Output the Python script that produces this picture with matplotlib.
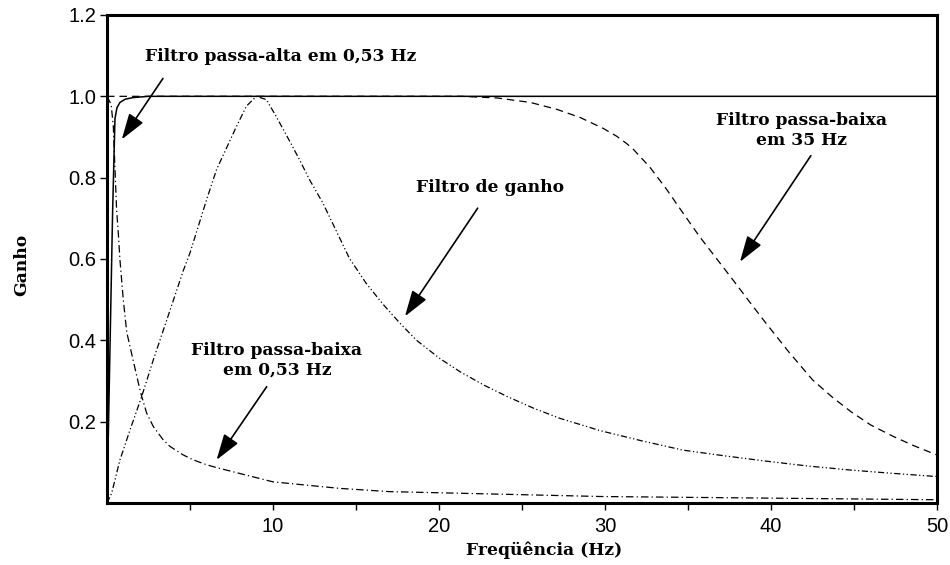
import matplotlib
matplotlib.use("Agg")
import matplotlib.pyplot as plt
from matplotlib.ticker import FixedLocator, NullFormatter

# gain curves of the filter chain, frequency in Hz
hp_freq = [0, 0.34, 0.48, 0.6, 0.78, 1.1, 1.58, 2.5, 50]
hp_gain = [0, 0.72, 0.945, 0.972, 0.985, 0.993, 0.997, 1.0, 1.0]

lp053_freq = [0, 0.25, 0.38, 0.58, 0.68, 0.78, 0.98, 1.19, 1.58, 1.89, 2.09,
              2.39, 2.79, 3.39, 3.8, 4.6, 5.2, 6.0, 6.6, 10.0, 14.0, 17.0,
              29.7, 50]
lp053_gain = [1.0, 0.98, 0.926, 0.72, 0.664, 0.598, 0.50, 0.42, 0.35, 0.295,
              0.262, 0.221, 0.188, 0.155, 0.139, 0.118, 0.106, 0.094, 0.087,
              0.052, 0.036, 0.028, 0.016, 0.008]

gain_freq = [0, 0.28, 0.78, 1.39, 2.09, 2.79, 3.6, 4.6, 5.0, 6.0, 6.6, 7.8, 8.4,
             9.0, 9.6, 10.2, 11.0, 11.6, 12.2, 13.0, 14.6, 15.6, 16.6, 17.65,
             18.65, 20.06, 21.3, 22.7, 24.1, 25.7, 27.3, 29.7, 32.2, 34.7, 37.2,
             39.7, 42.2, 44.8, 47.3, 50]
gain_gain = [0, 0.024, 0.106, 0.18, 0.262, 0.352, 0.45, 0.572, 0.615, 0.746,
             0.82, 0.926, 0.976, 1.0, 0.992, 0.95, 0.89, 0.844, 0.795, 0.738,
             0.602, 0.541, 0.49, 0.442, 0.40, 0.355, 0.322, 0.29, 0.262,
             0.233, 0.208, 0.178, 0.153, 0.13, 0.116, 0.103, 0.091, 0.081,
             0.073, 0.065]

lp35_freq = [0, 21.4, 23.5, 25.5, 27.1, 28.5, 29.9, 30.7, 31.3, 31.7, 32.7, 33.7,
             34.7, 35.7, 36.7, 37.7, 38.7, 39.7, 41.1, 42.5, 43.7, 44.8, 46.0,
             47.4, 48.6, 50]
lp35_gain = [1.0, 1.0, 0.996, 0.985, 0.968, 0.948, 0.921, 0.902, 0.884, 0.870,
             0.826, 0.772, 0.713, 0.655, 0.602, 0.549, 0.495, 0.442, 0.37,
             0.303, 0.26, 0.225, 0.192, 0.163, 0.141, 0.118]

x_ticks = [10, 20, 30, 40, 50]
x_minor = [5, 15, 25, 35, 45]
y_ticks = [0.2, 0.4, 0.6, 0.8, 1.0, 1.2]

serif = {"family": "DejaVu Serif", "weight": "bold", "size": 12.3}

fig = plt.figure(figsize=(9.5, 5.65), dpi=100)
ax = fig.add_axes([107 / 950, 62 / 565, 830 / 950, 488 / 565])

lw = 0.9
ax.plot(hp_freq, hp_gain, color="black", lw=1.1)
ax.plot(lp053_freq, lp053_gain, color="black", lw=lw,
        dashes=(6, 2.5, 1, 2.5))
ax.plot(gain_freq, gain_gain, color="black", lw=lw,
        dashes=(5, 2, 1, 2, 1, 2))
ax.plot(lp35_freq, lp35_gain, color="black", lw=lw, dashes=(6, 4))

ax.set_xlim(0, 50)
ax.set_ylim(0, 1.2)
ax.xaxis.set_major_locator(FixedLocator(x_ticks))
ax.xaxis.set_minor_locator(FixedLocator(x_minor))
ax.xaxis.set_minor_formatter(NullFormatter())
ax.set_yticks(y_ticks)
ax.set_yticklabels(["%.1f" % v for v in y_ticks])

for s in ax.spines.values():
    s.set_linewidth(2.2)
ax.tick_params(axis="both", which="both", length=5, width=1,
               direction="out", labelsize=14.5)
ax.tick_params(axis="x", pad=5)
ax.tick_params(axis="y", pad=3)
for lab in ax.get_xticklabels() + ax.get_yticklabels():
    lab.set_family("Liberation Sans")

ax.set_xlabel("Freqüência (Hz)", fontdict=serif)
ax.set_ylabel("Ganho", fontdict=serif)
ax.xaxis.set_label_coords(0.527, -0.078)
ax.yaxis.set_label_coords(-0.093, 0.488)

arrow = dict(arrowstyle="-|>,head_length=0.8,head_width=0.26",
             color="black", lw=1.2, mutation_scale=20, shrinkA=0, shrinkB=0)

ax.text(10.48, 1.099, "Filtro passa-alta em 0,53 Hz", ha="center", va="center",
        fontdict=serif)
ax.annotate("", xy=(0.89, 0.894), xytext=(3.37, 1.044), arrowprops=arrow)

ax.text(23.07, 0.775, "Filtro de ganho", ha="center", va="center", fontdict=serif)
ax.annotate("", xy=(17.95, 0.459), xytext=(22.33, 0.725), arrowprops=arrow)

ax.text(41.85, 0.916, "Filtro passa-baixa\nem 35 Hz", ha="center", va="center",
        fontdict=serif, linespacing=1.2)
ax.annotate("", xy=(38.13, 0.593), xytext=(42.4, 0.854), arrowprops=arrow)

ax.text(10.24, 0.351, "Filtro passa-baixa\nem 0,53 Hz", ha="center", va="center",
        fontdict=serif, linespacing=1.2)
ax.annotate("", xy=(6.6, 0.106), xytext=(9.62, 0.286), arrowprops=arrow)

fig.savefig("out.png", dpi=100)
